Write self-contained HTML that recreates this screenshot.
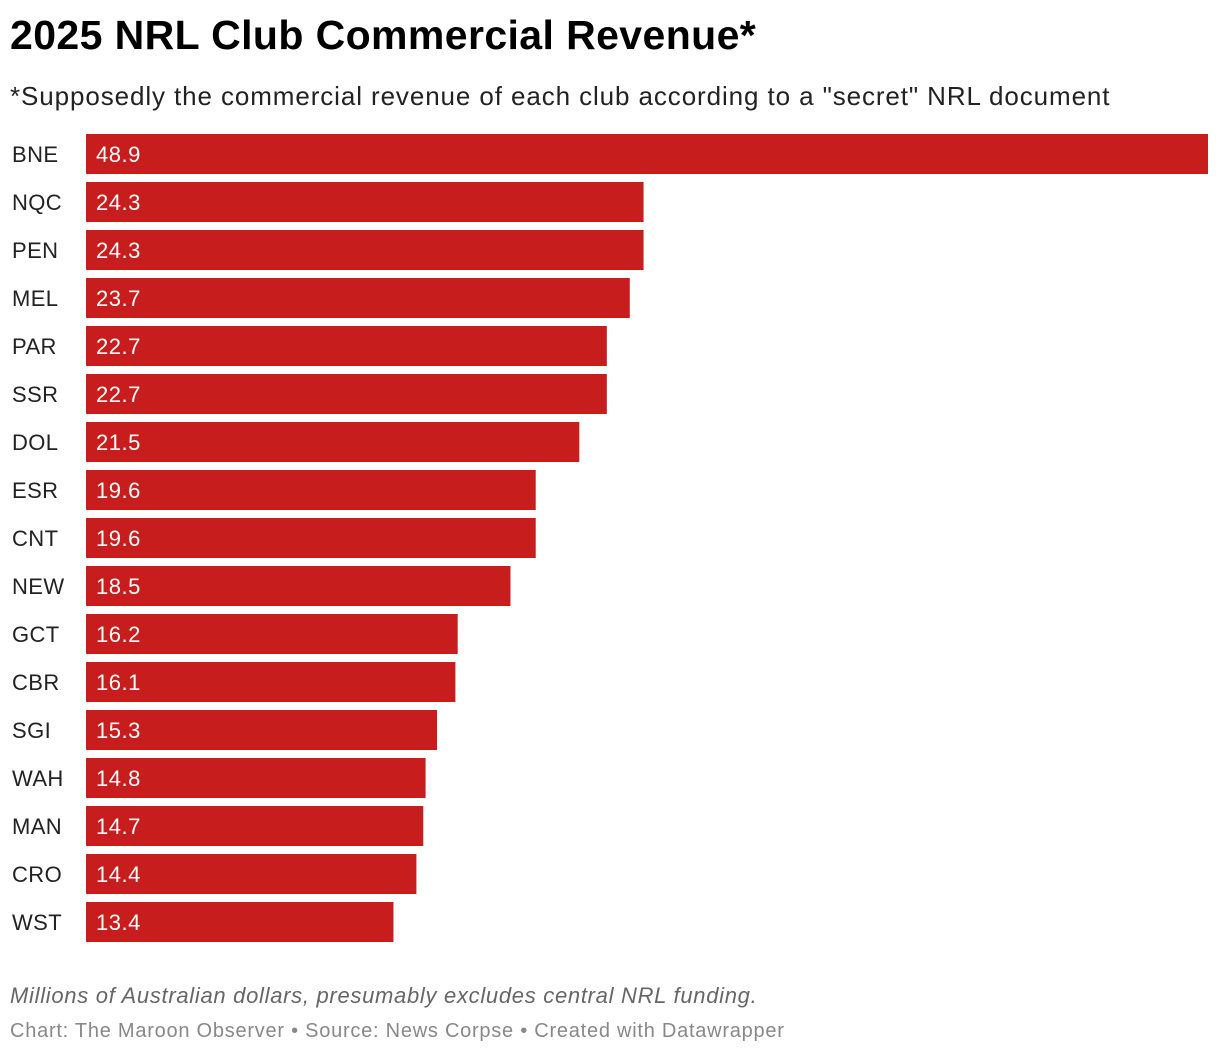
<!DOCTYPE html>
<html><head><meta charset="utf-8"><style>
body{margin:0;background:#fff;font-family:"Liberation Sans",Arial,sans-serif;width:1220px;height:1056px;overflow:hidden;position:relative}
.t{position:absolute;left:10px;top:12px;font-size:41px;font-weight:bold;color:#000;letter-spacing:0.4px}
.s{position:absolute;left:10px;top:81px;font-size:26px;color:#222;letter-spacing:0.9px}
.n{position:absolute;left:10px;top:983px;font-size:22px;font-style:italic;color:#666;letter-spacing:0.7px}
.f{position:absolute;left:10px;top:1020px;font-size:20px;color:#888;letter-spacing:0.75px}
</style></head><body>
<div class="t">2025 NRL Club Commercial Revenue*</div>
<div class="s">*Supposedly the commercial revenue of each club according to a "secret" NRL document</div>
<svg id="c" width="1220" height="960" style="position:absolute;left:0;top:0"></svg>
<div class="n">Millions of Australian dollars, presumably excludes central NRL funding.</div>
<div class="f">Chart: The Maroon Observer • Source: News Corpse • Created with Datawrapper</div>
<script>
const categories=["BNE","NQC","PEN","MEL","PAR","SSR","DOL","ESR","CNT","NEW","GCT","CBR","SGI","WAH","MAN","CRO","WST"];
const values=[48.9,24.3,24.3,23.7,22.7,22.7,21.5,19.6,19.6,18.5,16.2,16.1,15.3,14.8,14.7,14.4,13.4];
const labels=["48.9","24.3","24.3","23.7","22.7","22.7","21.5","19.6","19.6","18.5","16.2","16.1","15.3","14.8","14.7","14.4","13.4"];
const svg=document.getElementById('c'),NS="http://www.w3.org/2000/svg";
const x0=86,x1=1208,maxV=Math.max(...values);
const xs=v=>(x1-x0)*v/maxV;
const ys=i=>134+i*48;
categories.forEach((c,i)=>{
 const t=document.createElementNS(NS,'text');
 
 
 t.setAttribute('x',12);t.setAttribute('y',ys(i)+28);t.setAttribute('font-size','22');t.setAttribute('fill','#222');t.setAttribute('letter-spacing','0.4');
 t.textContent=c;svg.appendChild(t);
 const r=document.createElementNS(NS,'rect');
 
 
 r.setAttribute('x',x0);r.setAttribute('y',ys(i));r.setAttribute('width',xs(values[i]));r.setAttribute('height',40);r.setAttribute('fill','#c71e1d');
 svg.appendChild(r);
 const v=document.createElementNS(NS,'text');
 
 
 v.setAttribute('x',x0+10);v.setAttribute('y',ys(i)+28);v.setAttribute('font-size','22');v.setAttribute('fill','#fff');v.setAttribute('letter-spacing','0.5');
 v.textContent=labels[i];svg.appendChild(v);
});
</script>
</body></html>
